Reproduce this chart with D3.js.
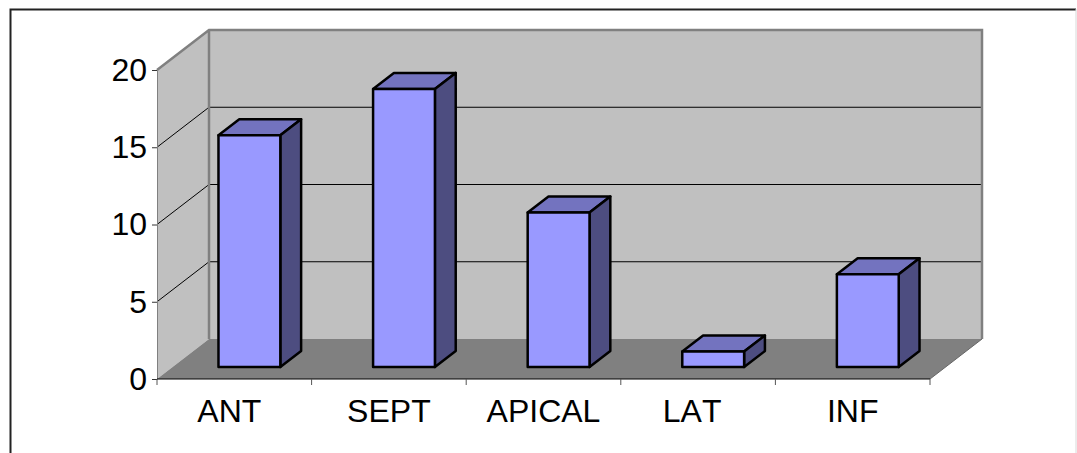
<!DOCTYPE html>
<html>
<head>
<meta charset="utf-8">
<script src="https://cdn.jsdelivr.net/npm/d3@7/dist/d3.min.js"></script>
<style>
html, body { margin: 0; padding: 0; background: #fff; }
svg { display: block; }
text { font-family: "Liberation Sans", Arial, sans-serif; fill: #000; font-kerning: none; }
</style>
</head>
<body>
<svg id="chart" width="1077" height="453"></svg>
<script>
// Regional counts shown as a 3-D column chart
const categories = ["ANT", "SEPT", "APICAL", "LAT", "INF"];
const counts = [15, 18, 10, 1, 6];
const yTicks = [0, 5, 10, 15, 20];

const svg = d3.select("#chart");

// Front plane of the box and its projection towards the back wall
const front = { left: 157, right: 930, top: 70, bottom: 379 };
const depth = { dx: 52, dy: -40 };
const barPlane = 0.3;   // how far into the box the columns stand
const barDepth = 0.4;   // column depth as a share of the box depth

const x = d3.scaleBand().domain(categories).range([front.left, front.right]).paddingInner(0);
const y = d3.scaleLinear().domain([0, 20]).range([front.bottom, front.top]);
const barW = x.bandwidth() * 0.4;

const poly = pts => "M" + pts.map(p => p.join(",")).join("L") + "Z";
const back = (px, py) => [px + depth.dx, py + depth.dy];

// Outer frame
svg.append("path").attr("d", `M10.5,453V9.5H1076`).attr("fill", "none").attr("stroke", "#222").attr("stroke-width", 2);
svg.append("path").attr("d", `M1076,9V453`).attr("fill", "none").attr("stroke", "#d8d8d8").attr("stroke-width", 1);

// Walls
const wall = "#c0c0c0", edge = "#808080";
svg.append("path")
  .attr("d", poly([[front.left, y(20)], back(front.left, y(20)), back(front.left, y(0)), [front.left, y(0)]]))
  .attr("fill", wall);
svg.append("path")
  .attr("d", poly([back(front.left, y(20)), back(front.right, y(20)), back(front.right, y(0)), back(front.left, y(0))]))
  .attr("fill", wall);

// Floor
svg.append("path")
  .attr("d", poly([[front.left, y(0)], [front.right, y(0)], back(front.right, y(0)), back(front.left, y(0))]))
  .attr("fill", edge);

// Gridlines run along the side wall and then across the back wall
yTicks.filter(t => t > 0 && t < 20).forEach(t => {
  const a = [front.left, y(t)], b = back(front.left, y(t)), c = back(front.right, y(t));
  svg.append("path").attr("d", `M${a}L${b}L${c}`).attr("fill", "none").attr("stroke", "#000").attr("stroke-width", 1);
});

// Wall outline
const tl = back(front.left, y(20)), tr = back(front.right, y(20));
const bl = back(front.left, y(0)), br = back(front.right, y(0));
svg.append("path")
  .attr("d", `M${front.left},${y(20)}L${tl}L${tr}L${br}M${tl}L${bl}`)
  .attr("fill", "none").attr("stroke", edge).attr("stroke-width", 2.5);
svg.append("path")
  .attr("d", `M${front.right},${y(0)}L${br}`)
  .attr("fill", "none").attr("stroke", "#666").attr("stroke-width", 1);

// Columns
const bars = svg.append("g").selectAll("g").data(categories).join("g");
bars.each(function (c, i) {
  const g = d3.select(this);
  const x0 = x(c) + (x.bandwidth() - barW) / 2 + depth.dx * barPlane - 0.5;
  const x1 = x0 + barW;
  const yb = y(0) + depth.dy * barPlane;
  const yt = yb - (y(0) - y(counts[i]));
  const dx = depth.dx * barDepth, dy = depth.dy * barDepth;
  const style = sel => sel.attr("stroke", "#000").attr("stroke-width", 2.5).attr("stroke-linejoin", "round");
  style(g.append("path").attr("d", poly([[x0, yt], [x0 + dx, yt + dy], [x1 + dx, yt + dy], [x1, yt]])).attr("fill", "#7373bf"));
  style(g.append("path").attr("d", poly([[x1, yt], [x1 + dx, yt + dy], [x1 + dx, yb + dy], [x1, yb]])).attr("fill", "#4d4d80"));
  style(g.append("path").attr("d", poly([[x0, yt], [x1, yt], [x1, yb], [x0, yb]])).attr("fill", "#9999ff"));
});

// Value axis
const yAxis = d3.axisLeft(y).tickValues(yTicks).tickSize(5).tickPadding(5).tickFormat(d3.format("d"));
const gy = svg.append("g").attr("transform", `translate(${front.left},0)`).call(yAxis);
gy.select(".domain").attr("stroke", "#808080").attr("stroke-width", 1);
gy.selectAll("line").attr("stroke", "#333");
gy.selectAll("text").attr("font-size", 32);

// Category axis: ticks sit on the band edges, labels near the band centres
const gx = svg.append("g");
gx.append("line").attr("x1", front.left).attr("x2", front.right).attr("y1", y(0)).attr("y2", y(0)).attr("stroke", "#000");
categories.concat([null]).forEach(c => {
  const px = c ? x(c) : front.right;
  gx.append("line").attr("x1", px).attr("x2", px).attr("y1", y(0)).attr("y2", y(0) + 6).attr("stroke", "#555");
});
const labelNudge = { ANT: -5, LAT: -6 };
gx.selectAll("text").data(categories).join("text")
  .attr("x", c => x(c) + x.bandwidth() / 2 + (labelNudge[c] || 0))
  .attr("y", y(0) + 43)
  .attr("text-anchor", "middle")
  .attr("font-size", 32)
  .text(c => c);
</script>
</body>
</html>
